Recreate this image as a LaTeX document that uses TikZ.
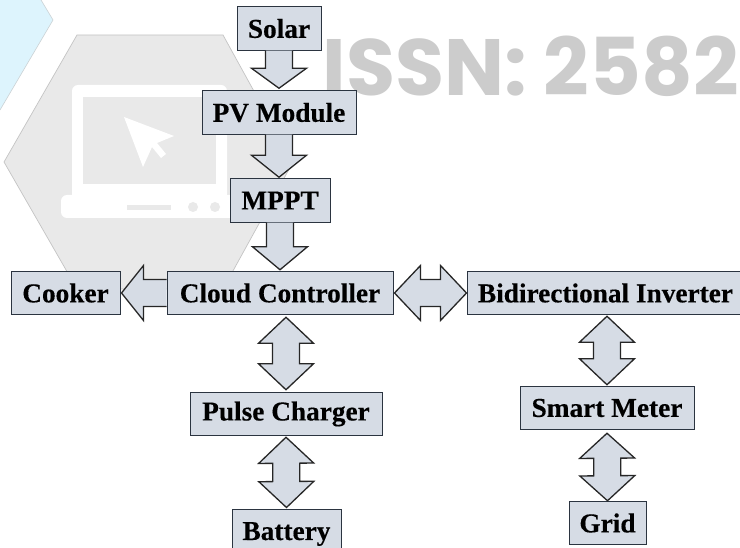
\documentclass[tikz,border=0pt]{standalone}
\usepackage{fontspec}
\setmainfont[BoldFeatures={FakeBold=0.3}]{Liberation Serif}
\newfontfamily\wmfont[BoldFont={Poppins Bold}]{Poppins}
\usetikzlibrary{calc}
\definecolor{boxfill}{HTML}{D6DCE5}
\definecolor{boxline}{HTML}{2B3440}
\definecolor{hexgray}{HTML}{E9E9E9}
\definecolor{hexedge}{HTML}{C4C4C4}
\definecolor{wmgray}{HTML}{CCCCCC}
\definecolor{hexblue}{HTML}{DDF4FD}
\tikzset{
  x=1pt,y=-1pt,
  blockbox/.style={draw=boxline,fill=boxfill,line width=1pt,inner sep=0pt,minimum height=43.5pt,
    font=\fontsize{27.3pt}{30pt}\selectfont\bfseries,text=black},
  fat/.style={draw=black!85,fill=boxfill,line width=1.3pt,line join=miter},
}
% #1 tail, #2 tip, #3 head length, one-way block arrow
\newcommand{\fatone}[3]{%
  \coordinate (hb) at ($(#2)!#3pt!(#1)$);
  \draw[fat] ($(#1)!13.5pt!90:(#2)$) -- ($(hb)!13.5pt!90:(#2)$) -- ($(hb)!27.5pt!90:(#2)$) -- (#2)
    -- ($(hb)!27.5pt!-90:(#2)$) -- ($(hb)!13.5pt!-90:(#2)$) -- ($(#1)!13.5pt!-90:(#2)$);
}
% #1 tip, #2 tip, #3 head length, two-way block arrow
\newcommand{\fattwo}[3]{%
  \coordinate (ha) at ($(#1)!#3pt!(#2)$);
  \coordinate (hb) at ($(#2)!#3pt!(#1)$);
  \draw[fat] (#1) -- ($(ha)!27.5pt!90:(#2)$) -- ($(ha)!13.5pt!90:(#2)$) -- ($(hb)!13.5pt!-90:(#1)$)
    -- ($(hb)!27.5pt!-90:(#1)$) -- (#2) -- ($(hb)!27.5pt!90:(#1)$) -- ($(hb)!13.5pt!90:(#1)$)
    -- ($(ha)!13.5pt!-90:(#2)$) -- ($(ha)!27.5pt!-90:(#2)$) -- cycle;
}
\begin{document}
\begin{tikzpicture}
\useasboundingbox (0,0) rectangle (740,548);
\clip (0,0) rectangle (740,548);
% background watermark
\fill[white] (0,0) rectangle (740,548);
\fill[hexblue] (0,0) -- (41,0) -- (53,20) -- (0,110) -- cycle;
\draw[hexedge!70!hexblue,line width=0.6pt] (41,0) -- (53,20) -- (0,110);
\filldraw[fill=hexgray,draw=hexedge,line width=0.7pt] (77,35) -- (223,35) -- (293,162) -- (223,289) -- (77,289) -- (4,162) -- cycle;
\fill[white,rounded corners=6pt] (72,85) rectangle (227,200);
\fill[white,rounded corners=6pt] (61,195) rectangle (240,218);
\fill[hexgray] (83,97) rectangle (216,184);
\fill[white] (124,117) -- (174,136) -- (157,143) -- (166,154) -- (161,158) -- (152,147) -- (143,167) -- cycle;
\fill[hexgray] (127,205) rectangle (171,210);
\fill[hexgray] (193,207) circle (5);
\fill[hexgray] (215,207) circle (5);
\node[anchor=base west,inner sep=0pt,text=wmgray,font=\wmfont\bfseries\fontsize{79.8pt}{80pt}\selectfont] (wm) at (322.5,96) {ISSN: 2582};
% blocks
\node[blockbox,minimum width=84pt]  (solar) at (279,28.5) {Solar};
\node[blockbox,minimum width=154pt] (pv)    at (279,112.5) {PV Module};
\node[blockbox,minimum width=100pt] (mppt)  at (280,200.5) {MPPT};
\node[blockbox,minimum width=226pt] (cc)    at (280,293) {Cloud Controller};
\node[blockbox,minimum width=109pt] (cook)  at (65.5,293) {Cooker};
\node[blockbox,minimum width=277pt] (inv)   at (605.5,293) {Bidirectional Inverter};
\node[blockbox,minimum width=192pt] (pc)    at (286,414) {Pulse Charger};
\node[blockbox,minimum width=109pt,minimum height=50pt] (bat) at (286.5,534) {Battery};
\node[blockbox,minimum width=174pt] (sm)    at (607,408) {Smart Meter};
\node[blockbox,minimum width=77pt]  (grid)  at (607.5,523) {Grid};
% connector ends
\coordinate (a1) at (solar.south);
\coordinate (a2) at ($(pv.north)+(0,-2)$);
\coordinate (b1) at (pv.south);
\coordinate (b2) at ($(mppt.north)+(-1,-1)$);
\coordinate (c1) at (mppt.south);
\coordinate (c2) at ($(cc.north)+(0,-1)$);
\coordinate (d1) at (cc.west);
\coordinate (d2) at ($(cook.east)+(1,0)$);
\coordinate (e1) at ($(cc.east)+(1,0)$);
\coordinate (e2) at (inv.west);
\coordinate (f1) at ($(cc.south -| pc.north)+(0,2)$);
\coordinate (f2) at ($(pc.north)+(0,-2)$);
\coordinate (g1) at ($(pc.south)+(0,1)$);
\coordinate (g2) at ($(bat.north)+(0,-1)$);
\coordinate (h1) at ($(inv.south -| sm.north)+(0,1)$);
\coordinate (h2) at ($(sm.north)+(0,-1)$);
\coordinate (i1) at ($(sm.south)+(0,3)$);
\coordinate (i2) at (grid.north);
% connectors
\fatone{a1}{a2}{20}
\fatone{b1}{b2}{22}
\fatone{c1}{c2}{23}
\fatone{d1}{d2}{22}
\fattwo{e1}{e2}{26}
\fattwo{f1}{f2}{26}
\fattwo{g1}{g2}{26}
\fattwo{h1}{h2}{26}
\fattwo{i1}{i2}{25}
\end{tikzpicture}
\end{document}
